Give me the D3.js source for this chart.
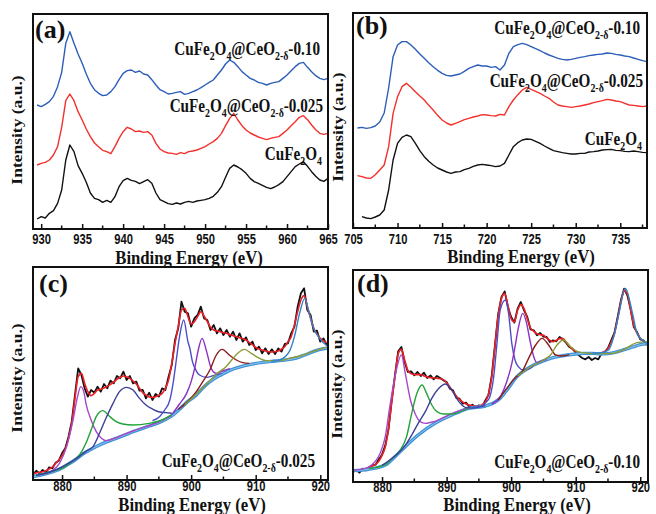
<!DOCTYPE html>
<html>
<head>
<meta charset="utf-8">
<script src="https://cdn.jsdelivr.net/npm/d3@7"></script>
<style>
  body { margin: 0; background: #fff; }
  svg { display: block; font-family: "Liberation Serif", "Times New Roman", serif; font-weight: bold; }
</style>
</head>
<body>
<div id="chart"></div>
<script>
// ---- (a) Cu 2p, 0.5 eV grid from 929.5 to 965 ----
const aEnergy = d3.range(929.5, 965.01, 0.5);
const aPure = [
  30, 37, 33, 47, 55, 77, 117, 207, 252, 232,
  190, 167, 140, 108, 92, 88, 80, 86, 80, 97,
  127, 145, 152, 146, 143, 136, 142, 148, 137, 108,
  88, 82, 76, 74, 78, 75, 80, 83, 80, 84,
  86, 88, 92, 98, 110, 127, 155, 182, 192, 186,
  178, 167, 152, 142, 137, 131, 125, 121, 126, 133,
  142, 157, 172, 187, 195, 202, 188, 172, 158, 147,
  143, 152,
];
const aCe025 = [
  192, 197, 200, 207, 222, 247, 305, 385, 405, 385,
  352, 327, 300, 277, 258, 247, 236, 232, 226, 247,
  272, 292, 305, 300, 292, 294, 290, 292, 282, 257,
  240, 232, 228, 227, 224, 229, 226, 232, 234, 237,
  242, 247, 255, 262, 272, 287, 310, 332, 347, 327,
  310, 297, 288, 282, 276, 272, 268, 272, 275, 277,
  287, 297, 310, 322, 335, 340, 328, 312, 298, 287,
  284, 287,
];
const aCe010 = [
  372, 367, 374, 382, 398, 427, 470, 557, 592, 557,
  525, 497, 465, 437, 418, 407, 400, 402, 412, 427,
  448, 467, 475, 477, 470, 474, 465, 462, 448, 432,
  418, 412, 405, 407, 410, 412, 404, 407, 412, 417,
  424, 432, 440, 447, 462, 477, 495, 507, 500, 487,
  472, 462, 452, 447, 440, 437, 432, 437, 440, 442,
  452, 462, 475, 487, 497, 500, 485, 472, 460, 452,
  448, 452,
];

// ---- (b) Fe 2p, 0.5 eV grid from 705.5 to 738 ----
const bEnergy = d3.range(705.5, 738.01, 0.5);
const bPure = [
  null, 34, 30, 28, 33, 39, 54, 114, 204, 254,
  272, 279, 274, 254, 232, 214, 200, 189, 180, 174,
  168, 164, 168, 169, 175, 179, 185, 189, 191, 189,
  187, 184, 186, 194, 219, 244, 256, 264, 267, 266,
  260, 254, 246, 239, 232, 229, 226, 224, 222, 222,
  224, 224, 228, 229, 231, 234, 235, 236, 233, 232,
  230, 229, 231, 229, 227, 226,
];
const bCe025 = [
  157, 154, 150, 149, 160, 174, 189, 244, 344, 394,
  424, 434, 422, 409, 396, 384, 368, 354, 338, 324,
  315, 309, 314, 319, 325, 329, 333, 336, 340, 339,
  337, 336, 341, 339, 364, 384, 400, 414, 422, 416,
  410, 404, 396, 389, 378, 369, 366, 364, 362, 364,
  366, 369, 372, 376, 379, 382, 386, 384, 381, 379,
  374, 369, 368, 366, 364, 366,
];
const bCe010 = [
  300, 302, 299, 301, 306, 318, 345, 420, 514, 549,
  559, 559, 549, 536, 522, 509, 496, 484, 473, 464,
  458, 456, 459, 462, 470, 479, 484, 489, 486, 486,
  482, 484, 474, 489, 524, 544, 550, 554, 550, 544,
  538, 532, 525, 519, 514, 509, 506, 504, 506, 509,
  512, 514, 517, 519, 521, 522, 525, 524, 521, 519,
  516, 514, 510, 506, 502, 499,
];

// ---- (c)/(d) Ce 3d, raw data and envelope on 0.5 eV grid from 875.5 to 921 ----
const ceEnergy = d3.range(875.5, 921.01, 0.5);
const cRaw = [
  15, 28, 20, 30, 22, 38, 35, 52, 58, 80,
  95, 130, 175, 255, 335, 315, 275, 250, 270, 262,
  280, 265, 288, 275, 298, 290, 312, 305, 325, 300,
  312, 290, 295, 268, 270, 245, 262, 240, 258, 250,
  275, 270, 310, 345, 420, 455, 535, 505, 500, 460,
  485, 495, 520, 485, 480, 450, 465, 440, 455, 435,
  450, 430, 445, 420, 440, 415, 428, 405, 415, 390,
  400, 380, 395, 378, 392, 378, 395, 385, 408, 410,
  440, 460, 520, 560, 575, 510, 495, 445, 448, 415,
  425, 405,
];
const cFit = [
  20, 21, 23, 25, 28, 33, 39, 50, 60, 73,
  92, 125, 170, 245, 310, 320, 290, 265, 253, 260,
  270, 272, 276, 281, 287, 294, 302, 308, 312, 310,
  305, 297, 288, 275, 262, 255, 249, 248, 250, 254,
  260, 275, 300, 350, 410, 460, 510, 515, 490, 468,
  475, 490, 505, 492, 475, 458, 450, 447, 445, 442,
  440, 436, 433, 430, 427, 424, 420, 413, 406, 398,
  393, 390, 387, 385, 384, 385, 387, 393, 400, 415,
  430, 465, 505, 540, 553, 520, 485, 455, 438, 425,
  417, 412,
];
const dRaw = [
  30, 36, 28, 40, 35, 44, 50, 52, 68, 82,
  110, 158, 245, 320, 392, 405, 360, 330, 332, 320,
  330, 318, 328, 312, 320, 308, 318, 312, 305, 300,
  280, 275, 252, 250, 235, 238, 226, 232, 224, 230,
  226, 245, 262, 320, 412, 505, 555, 572, 525, 495,
  478, 520, 540, 515, 495, 458, 455, 440, 447, 436,
  435, 420, 425, 422, 435, 428, 418, 405, 400, 388,
  380, 372, 368, 375, 366, 372, 368, 385, 390, 402,
  425, 448, 495, 545, 580, 560, 520, 465, 450, 428,
  425, 410,
];
const dFit = [
  34, 35, 36, 38, 40, 43, 47, 53, 62, 80,
  105, 160, 240, 316, 385, 398, 366, 335, 325, 322,
  322, 322, 318, 315, 313, 312, 311, 310, 307, 298,
  285, 271, 258, 247, 240, 234, 231, 229, 228, 228,
  232, 240, 265, 316, 410, 500, 550, 565, 530, 490,
  480, 515, 532, 520, 490, 462, 452, 445, 442, 440,
  432, 425, 421, 425, 430, 430, 420, 408, 398, 392,
  388, 386, 386, 386, 386, 386, 386, 388, 392, 400,
  420, 445, 490, 540, 575, 565, 515, 470, 446, 432,
  421, 415,
];

// fitted components, [binding energy, intensity]
const cBackground = [[875.5, 10], [877, 16], [878.6, 25], [880, 36], [881, 48], [882, 60], [883.2, 78], [884.5, 92], [885.8, 105], [887, 115], [888.4, 125], [890, 137], [891, 145], [892.5, 155], [893.5, 162], [895, 172], [896.1, 182], [897.2, 195], [898.2, 212], [899.5, 236], [900.8, 255], [902, 280], [903.4, 302], [904.7, 316], [905.9, 328], [907.2, 337], [908.5, 344], [909.8, 349], [911.1, 353], [912.4, 356], [913.7, 358], [915, 361], [916.3, 366], [917.6, 375], [918.9, 385], [920, 392], [921.2, 396]];
const cPeak1 = [[876, 14], [877.5, 20], [878.6, 30], [879.6, 50], [880.7, 100], [881.7, 180], [882.4, 250], [882.9, 280], [883.4, 262], [883.7, 230], [884.5, 180], [885.3, 145], [886.1, 125], [886.8, 118], [888, 124], [889.5, 136], [891, 147], [893, 160], [895, 174], [897, 194]];
const cPeak2 = [[876, 14], [878.6, 27], [880.5, 40], [881.7, 58], [882.7, 75], [883.7, 110], [884.5, 150], [885.3, 190], [886.3, 208], [887.4, 190], [888.4, 175], [889.4, 168], [891, 165], [893.5, 170], [895.5, 180], [897, 196]];
const cPeak3 = [[876, 14], [878.6, 27], [881, 50], [882.5, 68], [883.7, 86], [884.8, 100], [885.8, 140], [886.8, 185], [887.9, 230], [888.9, 265], [890, 278], [891, 270], [892, 245], [893, 225], [894.1, 212], [895.1, 204], [896.1, 202], [897, 200]];
const cPeak4 = [[894, 178], [895.1, 190], [895.9, 210], [896.7, 240], [897.2, 290], [897.7, 360], [898.2, 430], [898.85, 480], [899.5, 415], [899.8, 395], [900.2, 355], [900.6, 335], [901.3, 315], [902.4, 308], [903.4, 313], [904.7, 320]];
const cPeak5 = [[897, 196], [898.2, 228], [899.3, 260], [900, 295], [900.6, 340], [901.1, 390], [901.7, 425], [902.4, 385], [903.1, 335], [903.9, 320], [904.9, 327], [906, 334]];
const cPeak6 = [[898, 212], [899.5, 236], [900.8, 265], [901.8, 295], [902.9, 330], [903.9, 375], [904.8, 392], [905.9, 375], [907, 360], [908, 352], [909, 350]];
const cPeak7 = [[899, 225], [901, 262], [903, 300], [903.9, 318], [905.4, 340], [906.5, 365], [907.3, 382], [908.3, 392], [909.3, 380], [910.3, 368], [911.6, 358], [913.7, 358], [915.2, 365], [916.8, 372], [918.8, 385], [920.9, 398]];
const cPeak8 = [[912.4, 356], [913.7, 360], [915.2, 385], [916, 430], [916.8, 500], [917.6, 545], [918.3, 500], [919.1, 450], [919.9, 425], [920.9, 405], [921.2, 402]];

const dBackground = [[875.5, 34], [877.9, 38], [880.5, 51], [882, 76], [883.6, 106], [885.6, 141], [888.2, 176], [890.8, 201], [893.4, 221], [896, 228], [897.2, 236], [898.3, 251], [899.5, 280], [900.9, 316], [902.2, 336], [903.5, 351], [904.8, 362], [906.1, 371], [907.4, 377], [908.7, 381], [910, 384], [911.3, 386], [912.6, 386], [913.8, 384], [915, 385], [916.3, 390], [917.5, 397], [918.8, 405], [920, 412], [921.2, 416]];
const dPeak1 = [[875.5, 35], [876.8, 38], [878.4, 51], [879.7, 86], [880.5, 136], [881.2, 226], [882, 316], [883, 381], [883.6, 326], [884.4, 246], [885.1, 206], [885.9, 181], [886.7, 176], [888.2, 182], [890.8, 205], [893.4, 223]];
const dPeak2 = [[878, 40], [880.5, 52], [881.5, 70], [882.8, 95], [883.8, 136], [884.6, 206], [885.4, 266], [886.2, 291], [886.9, 266], [887.7, 231], [888.5, 211], [889.5, 204], [890.8, 204], [893.4, 222]];
const dPeak3 = [[880, 50], [882, 78], [883.6, 110], [884.6, 141], [885.6, 176], [886.7, 211], [887.7, 251], [888.8, 281], [889.8, 294], [890.8, 276], [891.9, 241], [892.9, 224], [893.9, 222], [896, 229]];
const dPeak4 = [[894, 224], [895.5, 228], [896.2, 241], [896.7, 256], [897.3, 316], [897.8, 416], [898.3, 516], [899.1, 546], [899.6, 506], [900.1, 416], [900.6, 366], [901.1, 346], [901.9, 336], [902.9, 340], [903.5, 351]];
const dPeak5 = [[897, 234], [898.5, 262], [899.3, 300], [900.1, 355], [900.6, 406], [901.1, 461], [901.8, 506], [902.4, 476], [902.9, 426], [903.5, 376], [904, 358], [904.8, 364], [905.5, 368]];
const dPeak6 = [[898, 246], [899.3, 280], [900.6, 312], [901.7, 331], [902.7, 371], [903.8, 411], [904.8, 431], [905.8, 411], [906.9, 381], [907.9, 378], [909, 382]];
const dPeak7 = [[901, 318], [903, 345], [905, 366], [906.1, 381], [907.1, 411], [908.1, 426], [909.2, 406], [910.3, 391], [911.9, 386], [913.8, 385], [915.4, 385], [917.5, 398], [919.5, 418], [921.2, 421]];
const dPeak8 = [[912.6, 386], [914, 388], [915.1, 396], [915.9, 436], [916.7, 506], [917.7, 581], [918.8, 506], [919.5, 446], [920.3, 426], [921.2, 414]];

const peakColors = ["#a748c6", "#22a33a", "#3c3f98", "#4a4fc6", "#8a30c2", "#8b1d1d", "#8d9b36", "#2d84cc"];

const width = 656;
const height = 514;

const svg = d3
  .select("#chart")
  .append("svg")
  .attr("width", width)
  .attr("height", height);

const panels = [
  {
    key: "a", left: 33, right: 328, top: 14, bottom: 229,
    xDomain: [929, 965], yDomain: [0, 645],
    major: d3.range(930, 966, 5), minor: d3.range(932.5, 965, 5), pad: 5,
    label: [35, 38], title: [189, 264], ylab: [22, 130],
  },
  {
    key: "b", left: 353, right: 647, top: 13, bottom: 228,
    xDomain: [705, 738], yDomain: [0, 645],
    major: d3.range(705, 739, 5), minor: d3.range(707.5, 738, 5), pad: 6,
    label: [356, 34], title: [521, 263], ylab: [343, 127],
  },
  {
    key: "c", left: 33, right: 328, top: 267, bottom: 480,
    xDomain: [875.5, 921.2], yDomain: [0, 639],
    major: d3.range(880, 921, 10), minor: d3.range(885, 921, 10), pad: 1,
    label: [39, 292], title: [192, 511], ylab: [22, 378],
  },
  {
    key: "d", left: 353, right: 648, top: 270, bottom: 482,
    xDomain: [875.5, 921.2], yDomain: [0, 636],
    major: d3.range(880, 921, 10), minor: d3.range(885, 921, 10), pad: 0,
    label: [357, 292], title: [517, 511], ylab: [342, 384],
  },
];

const panel = {};
panels.forEach((p) => {
  p.x = d3.scaleLinear().domain(p.xDomain).range([p.left, p.right]);
  p.y = d3.scaleLinear().domain(p.yDomain).range([p.bottom, p.top]);
  p.g = svg.append("g");
  p.g
    .append("clipPath")
    .attr("id", `clip-${p.key}`)
    .append("rect")
    .attr("x", p.left)
    .attr("y", p.top)
    .attr("width", p.right - p.left)
    .attr("height", p.bottom - p.top);
  p.plot = p.g.append("g").attr("clip-path", `url(#clip-${p.key})`);
  panel[p.key] = p;
});

function drawSeries(p, points, color, widthPx, curve) {
  const line = d3
    .line()
    .defined((d) => d[1] != null)
    .x((d) => p.x(d[0]))
    .y((d) => p.y(d[1]))
    .curve(curve || d3.curveLinear);
  p.plot
    .append("path")
    .datum(points)
    .attr("fill", "none")
    .attr("stroke", color)
    .attr("stroke-width", widthPx)
    .attr("stroke-linejoin", "round")
    .attr("d", line);
}

const zip = (energy, values) => values.map((v, i) => [energy[i], v]);

// (a) and (b): stacked spectra
[
  [panel.a, aEnergy, [aPure, aCe025, aCe010]],
  [panel.b, bEnergy, [bPure, bCe025, bCe010]],
].forEach(([p, energy, series]) => {
  const colors = ["#111111", "#f2302c", "#2c5eb8"];
  series.forEach((values, i) => drawSeries(p, zip(energy, values), colors[i], 1.4));
});

// (c) and (d): raw data, envelope, background, fitted peaks
[
  [panel.c, cRaw, cFit, cBackground, [cPeak1, cPeak2, cPeak3, cPeak4, cPeak5, cPeak6, cPeak7, cPeak8]],
  [panel.d, dRaw, dFit, dBackground, [dPeak1, dPeak2, dPeak3, dPeak4, dPeak5, dPeak6, dPeak7, dPeak8]],
].forEach(([p, raw, fit, background, peaks]) => {
  drawSeries(p, zip(ceEnergy, raw), "#111111", 1.8);
  drawSeries(p, zip(ceEnergy, fit), "#ee2026", 1.6, d3.curveMonotoneX);
  drawSeries(p, background, "#3f93d6", 3.4, d3.curveMonotoneX);
  drawSeries(p, background, "#8ec4ee", 1, d3.curveMonotoneX);
  peaks.forEach((pts, i) => drawSeries(p, pts, peakColors[i], 1.4, d3.curveMonotoneX));
});

// frames, ticks and texts
function compoundLabel(g, tail, x, y, size) {
  const parts = [
    ["CuFe", false], ["2", true], ["O", false], ["4", true],
    ...(tail ? [["@CeO", false], ["2-δ", true], [tail, false]] : []),
  ];
  const text = g
    .append("text")
    .attr("transform", `translate(${x},${y}) scale(0.8,1)`)
    .attr("text-anchor", "end")
    .attr("font-size", size)
    .attr("fill", "#111");
  let shifted = false;
  parts.forEach(([s, sub]) => {
    let dy = 0;
    if (sub && !shifted) dy = size * 0.28;
    if (!sub && shifted) dy = -size * 0.28;
    text
      .append("tspan")
      .attr("dy", dy)
      .attr("font-size", sub ? size * 0.65 : size)
      .text(s);
    shifted = sub;
  });
}

panels.forEach((p) => {
  p.g
    .append("g")
    .attr("transform", `translate(0,${p.bottom})`)
    .call(
      d3
        .axisBottom(p.x)
        .tickValues(p.major)
        .tickSize(-5)
        .tickPadding(p.pad)
        .tickFormat(d3.format("d"))
    )
    .call((g) => g.select(".domain").remove())
    .call((g) => g.selectAll(".tick line").attr("stroke", "#111").attr("stroke-width", 1.5))
    .call((g) =>
      g
        .selectAll(".tick text")
        .attr("fill", "#111")
        .attr("font-size", 14)
        .attr("font-family", null)
        .attr("transform", "scale(0.8,1)")
    );

  p.g
    .append("g")
    .selectAll("line")
    .data(p.minor)
    .join("line")
    .attr("x1", (d) => p.x(d))
    .attr("x2", (d) => p.x(d))
    .attr("y1", p.bottom)
    .attr("y2", p.bottom - 3.5)
    .attr("stroke", "#111")
    .attr("stroke-width", 1.5);

  p.g
    .append("rect")
    .attr("x", p.left)
    .attr("y", p.top)
    .attr("width", p.right - p.left)
    .attr("height", p.bottom - p.top)
    .attr("fill", "none")
    .attr("stroke", "#111")
    .attr("stroke-width", 2);

  p.g
    .append("text")
    .attr("x", p.label[0])
    .attr("y", p.label[1])
    .attr("font-size", 26)
    .attr("fill", "#111")
    .text(`(${p.key})`);

  p.g
    .append("text")
    .attr("transform", `translate(${p.title[0]},${p.title[1]}) scale(0.88,1)`)
    .attr("text-anchor", "middle")
    .attr("font-size", 19)
    .attr("fill", "#111")
    .text("Binding Energy (eV)");

  p.g
    .append("text")
    .attr("transform", `translate(${p.ylab[0]},${p.ylab[1]}) rotate(-90) scale(1,0.8)`)
    .attr("text-anchor", "middle")
    .attr("font-size", 17.5)
    .attr("fill", "#111")
    .text("Intensity (a.u.)");
});

compoundLabel(panel.a.g, "-0.10", 320, 55, 19);
compoundLabel(panel.a.g, "-0.025", 323, 112, 19);
compoundLabel(panel.a.g, null, 322, 160, 19);
compoundLabel(panel.b.g, "-0.10", 640, 34, 19);
compoundLabel(panel.b.g, "-0.025", 643, 87, 19);
compoundLabel(panel.b.g, null, 642, 145, 19);
compoundLabel(panel.c.g, "-0.025", 315, 467, 19);
compoundLabel(panel.d.g, "-0.10", 640, 468, 19);
</script>
</body>
</html>
